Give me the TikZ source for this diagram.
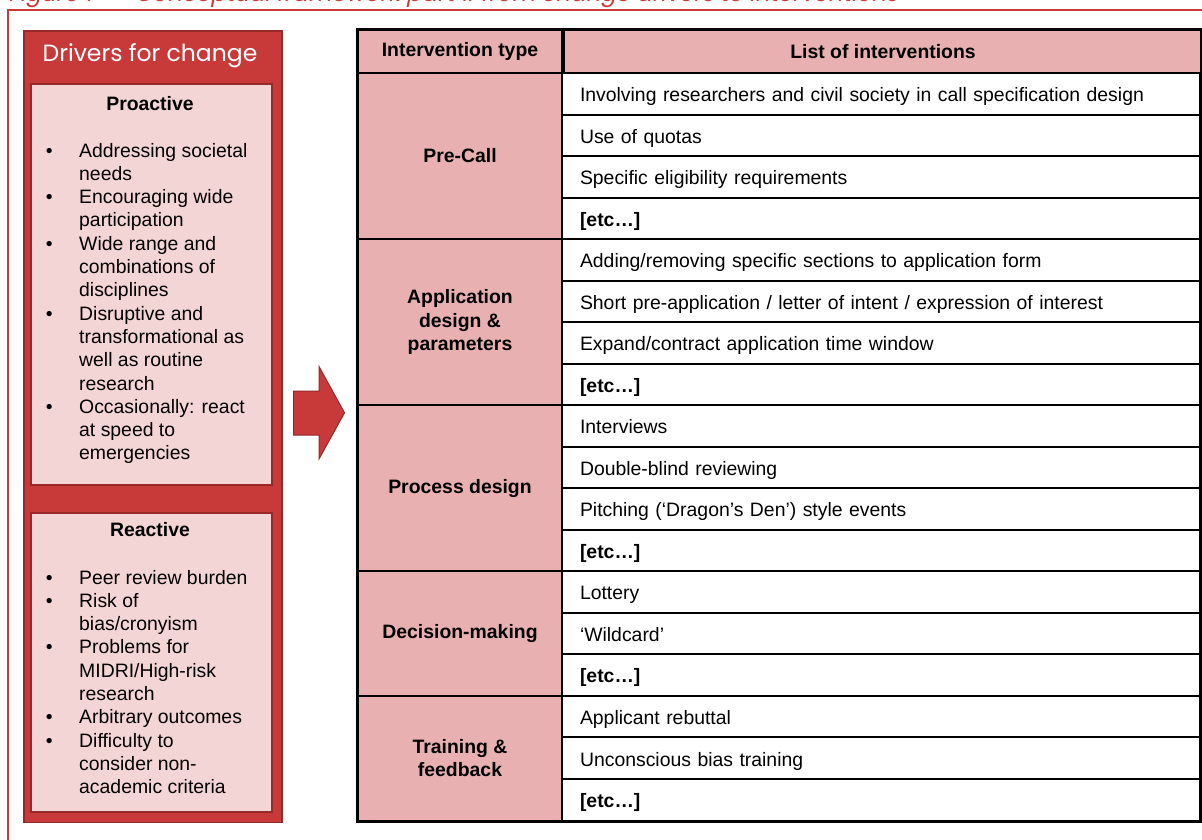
\documentclass[tikz,border=0pt]{standalone}
\usepackage{fontspec}
\setmainfont{Liberation Sans}
\newfontfamily\gothic[AutoFakeSlant=0.2]{Poppins}
\usetikzlibrary{positioning}
\definecolor{driverred}{RGB}{200,58,58}
\definecolor{driverdark}{RGB}{150,40,40}
\definecolor{driverpink}{RGB}{244,213,213}
\definecolor{tablepink}{RGB}{232,176,176}
\newcommand{\bodysize}{\fontsize{19.4}{23.3}\selectfont}
\tikzset{
    typecell/.style={draw=black, line width=2pt, fill=tablepink, anchor=north west,
        minimum width=204pt, align=center, font=\bodysize\bfseries},
    itemcell/.style={draw=black, line width=2pt, fill=white, anchor=north west,
        minimum height=41.53pt, text width=602pt, inner xsep=18pt, align=left,
        text height=15.6pt, text depth=0pt},
    drivbox/.style={draw=driverdark, line width=2pt, fill=driverpink, anchor=north west,
        minimum width=241pt},
    boxtitle/.style={anchor=base, font=\bodysize\bfseries},
    bullets/.style={anchor=north west, inner sep=0pt}
}
\newcommand{\bulletlist}[1]{\def\arraystretch{1}\begin{tabular}{@{}p{33.4pt}@{}l@{}}#1\end{tabular}}

\begin{document}
\begin{tikzpicture}[x=1pt, y=-1pt, font=\bodysize]
	    \useasboundingbox[fill=white] (0,0) rectangle (1202,840);
	    \node[anchor=base west, inner sep=0pt, text=driverred, font=\gothic\itshape\fontsize{23}{27}\selectfont] (caption) at (8,1.5) {Figure 7 -- Conceptual framework part 1: from change drivers to interventions};
	    \draw[driverred, line width=1.5pt] (1215,10) -- (8,10) -- (8,855);

	    \node[draw=driverdark, fill=driverred, line width=1.5pt, anchor=north west, minimum width=258pt, minimum height=791pt] (drivers) at (23,30.5) {};
	    \node[anchor=base, text=white, font=\gothic\fontsize{23.5}{28}\selectfont] (drivtitle) at (150,61.7) {Drivers for change};
	    \node[drivbox, minimum height=401pt] (proactive) at (29.5,83) {};
	    \node[boxtitle] (protitle) at (150,111) {Proactive};
	    \node[bullets] (prolist) at (45.6,140.5) {\bulletlist{
	        \textbullet & Addressing societal\\ & needs\\
	        \textbullet & Encouraging wide\\ & participation\\
	        \textbullet & Wide range and\\ & combinations of\\ & disciplines\\
	        \textbullet & Disruptive and\\ & transformational as\\ & well as routine\\ & research\\
	        \textbullet & Occasionally: react\\ & at speed to\\ & emergencies}};
	    \node[drivbox, minimum height=299pt] (reactive) at (29.5,511.5) {};
	    \node[boxtitle] (retitle) at (150,536.7) {Reactive};
	    \node[bullets] (relist) at (45.6,567.5) {\bulletlist{
	        \textbullet & Peer review burden\\
	        \textbullet & Risk of\\ & bias/cronyism\\
	        \textbullet & Problems for\\ & MIDRI/High-risk\\ & research\\
	        \textbullet & Arbitrary outcomes\\
	        \textbullet & Difficulty to\\ & consider non-\\ & academic criteria}};

	    \filldraw[fill=driverred, draw=driverdark, line width=1pt] (293.5,391) -- (319,391) -- (319,366.5) -- (344.5,412.8) -- (319,459) -- (319,435) -- (293.5,435) -- cycle;

	    \node[typecell, minimum height=42.5pt] (typehead) at (357,29.5) {Intervention type};
	    \node[typecell, anchor=west, minimum width=638pt, minimum height=42.5pt, right=0pt of typehead] (listhead) {List of interventions};
	    \foreach \txt [count=\i from 0] in {Involving researchers and civil society in call specification design, Use of quotas, Specific eligibility requirements, \textbf{[etc…]},
	        Adding/removing specific sections to application form, Short pre-application / letter of intent / expression of interest, Expand/contract application time window, \textbf{[etc…]},
	        Interviews, Double-blind reviewing, Pitching (‘Dragon’s Den’) style events, \textbf{[etc…]},
	        Lottery, ‘Wildcard’, \textbf{[etc…]},
	        Applicant rebuttal, Unconscious bias training, \textbf{[etc…]}}
	        \node[itemcell] (item\i) at (561,{72+\i*41.53}) {\txt};
	    \node[typecell, minimum height=166.12pt] (precall) at (357,72) {Pre-Call};
	    \node[typecell, minimum height=166.12pt] (appdesign) at (357,238.12) {Application\\design \&\\parameters};
	    \node[typecell, minimum height=166.12pt] (process) at (357,404.24) {Process design};
	    \node[typecell, minimum height=124.59pt] (decision) at (357,570.36) {Decision-making};
	    \node[typecell, minimum height=124.59pt] (training) at (357,694.95) {Training \&\\feedback};
	    \draw[line width=3pt] (typehead.north west) rectangle (item17.south east);
	\end{tikzpicture}
\end{document}
